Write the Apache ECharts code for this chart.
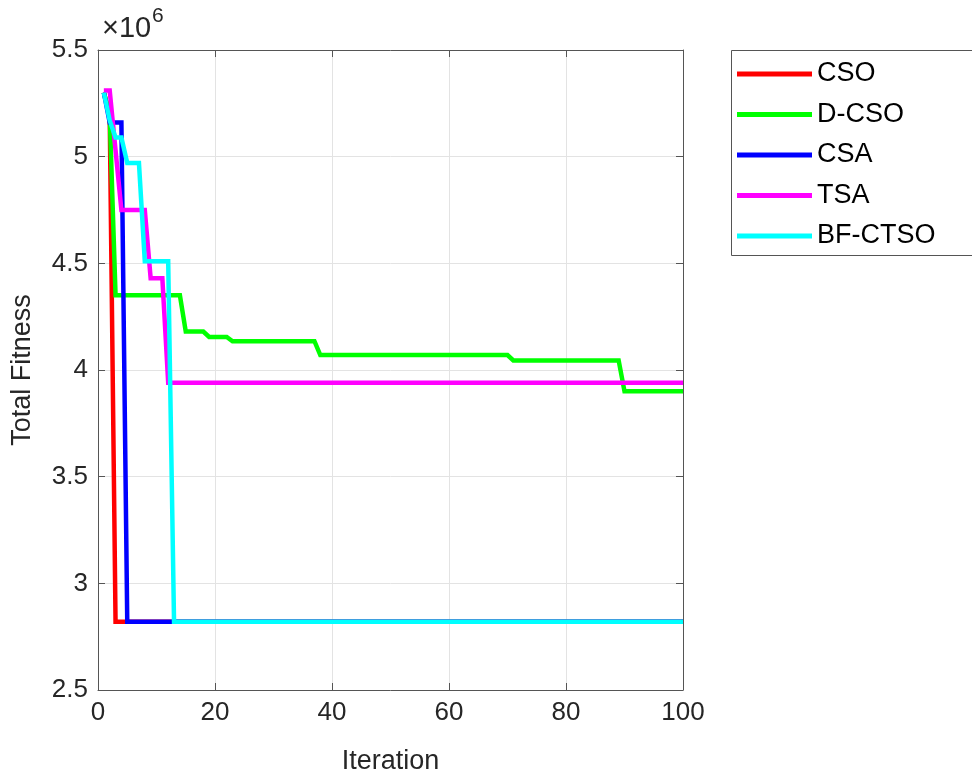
<!DOCTYPE html>
<html>
<head>
<meta charset="utf-8">
<script src="https://cdn.jsdelivr.net/npm/echarts@6/dist/echarts.min.js"></script>
<style>html,body{margin:0;padding:0;background:#fff;}#c{width:972px;height:780px;}</style>
</head>
<body>
<div id="c"></div>
<script>
// Values in units of 1e6 (axis shows x10^6)
const seriesNames = ['CSO', 'D-CSO', 'CSA', 'TSA', 'BF-CTSO'];
const seriesColors = ['#ff0000', '#00ff00', '#0000ff', '#ff00ff', '#00ffff'];

const csoIter = [1, 2, 3, 100];
const csoVal  = [5.30, 5.20, 2.82, 2.82];

const dcsoIter = [1, 2, 3, 14, 15, 18, 19, 22, 23, 37, 38, 70, 71, 89, 90, 100];
const dcsoVal  = [5.30, 5.20, 4.35, 4.35, 4.18, 4.18, 4.155, 4.155, 4.135, 4.135, 4.07, 4.07, 4.045, 4.045, 3.90, 3.90];

const csaIter = [1, 2, 4, 5, 100];
const csaVal  = [5.30, 5.16, 5.16, 2.82, 2.82];

const tsaIter = [1, 2, 3, 4, 8, 9, 11, 12, 100];
const tsaVal  = [5.31, 5.31, 5.03, 4.75, 4.75, 4.43, 4.43, 3.94, 3.94];

const bfIter = [1, 2, 3, 4, 5, 7, 8, 12, 13, 100];
const bfVal  = [5.30, 5.17, 5.09, 5.09, 4.97, 4.97, 4.51, 4.51, 2.82, 2.82];

const xTicks = [0, 20, 40, 60, 80, 100];
const yTicks = [2.5, 3, 3.5, 4, 4.5, 5, 5.5];

const allIter = [csoIter, dcsoIter, csaIter, tsaIter, bfIter];
const allVal = [csoVal, dcsoVal, csaVal, tsaVal, bfVal];

const FONT = 'Liberation Sans';
const TXT = '#262626';
const AX = '#555555';

const chart = echarts.init(document.getElementById('c'), null, {renderer: 'canvas'});

const series = seriesNames.map((n, i) => ({
  name: n,
  type: 'line',
  data: allIter[i].map((x, j) => [x, allVal[i][j]]),
  symbol: 'none',
  lineStyle: {color: seriesColors[i], width: 4.5, join: 'miter'},
  itemStyle: {color: seriesColors[i]},
  animation: false,
  z: 2 + i
}));

const option = {
  backgroundColor: '#ffffff',
  animation: false,
  grid: {left: 98, right: 289, top: 50, bottom: 90, containLabel: false},
  xAxis: [{
    type: 'value', min: xTicks[0], max: xTicks[xTicks.length - 1], interval: 20,
    name: 'Iteration', nameLocation: 'middle', nameGap: 58,
    nameTextStyle: {fontFamily: FONT, fontSize: 27, color: TXT},
    axisLine: {show: true, onZero: false, lineStyle: {color: AX, width: 1}},
    axisTick: {show: true, inside: true, length: 7, lineStyle: {color: AX}},
    axisLabel: {fontFamily: FONT, fontSize: 26, color: TXT, margin: 10},
    splitLine: {show: true, lineStyle: {color: '#e3e3e3', width: 1}}
  }, {
    type: 'value', position: 'top', min: xTicks[0], max: xTicks[xTicks.length - 1], interval: 20,
    axisLine: {show: true, onZero: false, lineStyle: {color: AX, width: 1}},
    axisTick: {show: true, inside: true, length: 7, lineStyle: {color: AX}},
    axisLabel: {show: false}, splitLine: {show: false}
  }],
  yAxis: [{
    type: 'value', min: yTicks[0], max: yTicks[yTicks.length - 1], interval: 0.5,
    name: 'Total Fitness', nameLocation: 'middle', nameGap: 62, nameRotate: 90,
    nameTextStyle: {fontFamily: FONT, fontSize: 27, color: TXT},
    axisLine: {show: true, onZero: false, lineStyle: {color: AX, width: 1}},
    axisTick: {show: true, inside: true, length: 7, lineStyle: {color: AX}},
    axisLabel: {fontFamily: FONT, fontSize: 26, color: TXT, margin: 10},
    splitLine: {show: true, lineStyle: {color: '#e3e3e3', width: 1}}
  }, {
    type: 'value', position: 'right', min: yTicks[0], max: yTicks[yTicks.length - 1], interval: 0.5,
    axisLine: {show: true, onZero: false, lineStyle: {color: AX, width: 1}},
    axisTick: {show: true, inside: true, length: 7, lineStyle: {color: AX}},
    axisLabel: {show: false}, splitLine: {show: false}
  }],
  legend: {
    orient: 'vertical', left: 737, top: 59, padding: 0,
    icon: 'rect', itemWidth: 75, itemHeight: 5, itemGap: 10.5,
    textStyle: {fontFamily: FONT, fontSize: 27, color: '#000', lineHeight: 30},
    data: seriesNames,
    selectedMode: false
  },
  graphic: [{
    type: 'rect', left: 729, top: 48,
    shape: {width: 300, height: 205},
    style: {fill: 'none', stroke: '#555555', lineWidth: 1},
    silent: true, z: -1
  }, {
    type: 'text', left: 102, top: 14,
    style: {text: '×10', fontFamily: FONT, fontSize: 29, fill: TXT}
  }, {
    type: 'text', left: 152, top: 6,
    style: {text: '6', fontFamily: FONT, fontSize: 21, fill: TXT}
  }],
  series: series
};
chart.setOption(option);
</script>
</body>
</html>
